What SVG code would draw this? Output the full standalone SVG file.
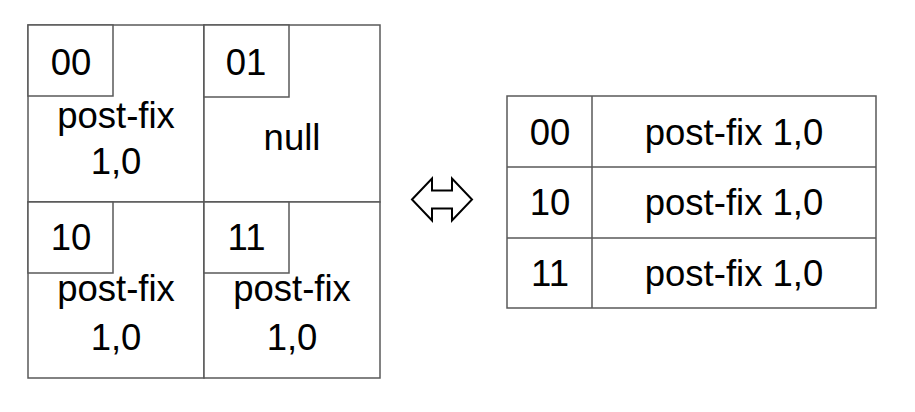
<svg xmlns="http://www.w3.org/2000/svg" width="915" height="412" viewBox="0 0 915 412">
<style>
.b{fill:#fff;stroke:#595959;stroke-width:1.5}
.l{stroke:#595959;stroke-width:1.5;fill:none}
text{font-family:"Liberation Sans",Arial,sans-serif;font-size:36.5px;fill:#000;text-anchor:middle}
</style>
<rect width="915" height="412" fill="#fff"/>
<g id="cell00">
<rect class="b" x="28" y="25" width="176" height="177"/>
<rect class="b" x="28" y="25" width="85" height="71"/>
<text x="71" y="75">00</text>
<text x="116" y="128">post-fix</text>
<text x="116" y="174">1,0</text>
</g>
<g id="cell01">
<rect class="b" x="204" y="25" width="176" height="177"/>
<rect class="b" x="204" y="25" width="85" height="72"/>
<text x="246" y="75">01</text>
<text x="292" y="150">null</text>
</g>
<g id="cell10">
<rect class="b" x="28" y="202" width="176" height="176"/>
<rect class="b" x="28" y="202" width="85" height="71"/>
<text x="71" y="250">10</text>
<text x="116" y="301">post-fix</text>
<text x="116" y="350">1,0</text>
</g>
<g id="cell11">
<rect class="b" x="204" y="202" width="176" height="176"/>
<rect class="b" x="204" y="202" width="85" height="71"/>
<text x="246.5" y="250">11</text>
<text x="292" y="301">post-fix</text>
<text x="292" y="350">1,0</text>
</g>
<g id="connectors">
<path d="M412,199.5 L432,178.5 L432,190.5 L452,190.5 L452,178.5 L472,199.5 L452,220.5 L452,208.5 L432,208.5 L432,220.5 Z" fill="#fff" stroke="#000" stroke-width="2" stroke-linejoin="miter"/>
</g>
<g id="table">
<rect class="b" x="507" y="96" width="369" height="212"/>
<line class="l" x1="592" y1="96" x2="592" y2="308"/>
<line class="l" x1="507" y1="167" x2="876" y2="167"/>
<line class="l" x1="507" y1="238" x2="876" y2="238"/>
<text x="550" y="145">00</text>
<text x="734" y="145">post-fix 1,0</text>
<text x="550" y="215">10</text>
<text x="734" y="215">post-fix 1,0</text>
<text x="550" y="286">11</text>
<text x="734" y="286">post-fix 1,0</text>
</g>
</svg>
